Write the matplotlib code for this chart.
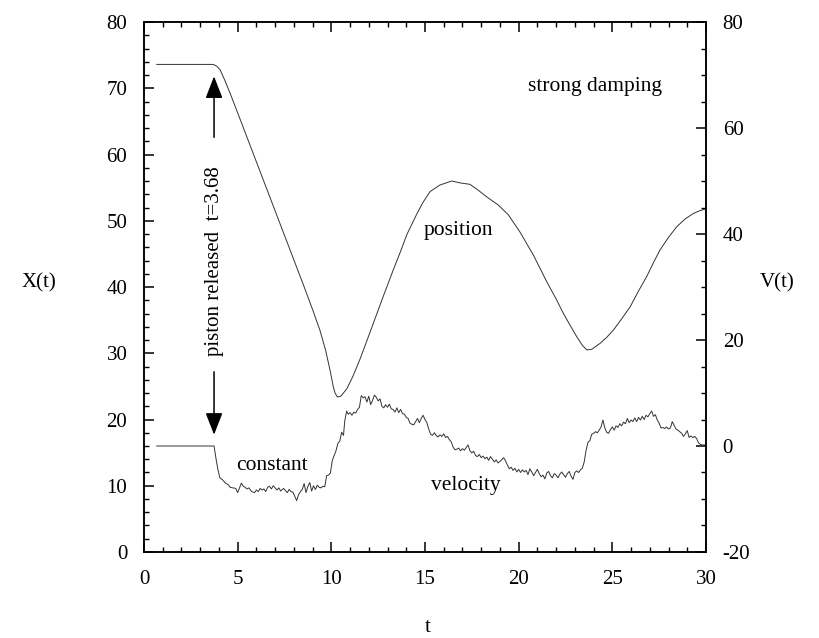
import matplotlib
matplotlib.use("Agg")
import matplotlib.pyplot as plt
from matplotlib.ticker import MultipleLocator

# position X(t), left axis
POS_T = [0.68, 3.70, 3.9, 4.06, 4.3, 4.59, 5.0, 5.5, 6.0, 6.5, 7.0, 7.5, 8.0, 8.5,
         9.0, 9.4, 9.7, 9.95, 10.1, 10.2, 10.32, 10.5, 10.82, 11.15, 11.53, 11.9,
         12.24, 12.8, 13.31, 13.7, 14.03, 14.56, 14.9, 15.27, 15.8, 16.43, 16.9,
         17.4, 17.8, 18.3, 18.9, 19.45, 20.07, 20.79, 21.5, 22.0, 22.39, 22.75,
         23.1, 23.4, 23.64, 23.9, 24.35, 24.7, 25.06, 25.5, 25.95, 26.4, 26.84,
         27.2, 27.55, 28.0, 28.44, 28.9, 29.33, 29.65, 30.0]
POS_X = [73.6, 73.6, 73.3, 72.8, 71.3, 69.3, 66.3, 62.6, 58.9, 55.2, 51.5, 47.8, 44.1, 40.4,
         36.6, 33.4, 30.4, 27.2, 25.0, 24.0, 23.4, 23.5, 24.6, 26.5, 29.1, 31.9,
         34.5, 38.8, 42.6, 45.4, 47.9, 51.0, 52.8, 54.4, 55.4, 56.0, 55.7,
         55.5, 54.7, 53.6, 52.4, 50.9, 48.3, 44.8, 40.8, 38.2, 36.0, 34.2,
         32.5, 31.2, 30.5, 30.6, 31.5, 32.4, 33.5, 35.2, 37.0, 39.4, 41.6,
         43.7, 45.6, 47.5, 49.1, 50.3, 51.1, 51.5, 51.8]

# velocity V(t), right axis
VEL_T = [0.68, 3.74, 3.85, 3.95, 4.05, 4.2, 4.35, 4.5, 4.6, 4.75, 4.9,
         5.0, 5.1, 5.2, 5.3, 5.4, 5.5, 5.6, 5.75, 5.9,
         6.0, 6.1, 6.2, 6.3, 6.4, 6.5, 6.6, 6.7, 6.8, 6.9,
         7.0, 7.1, 7.2, 7.3, 7.45, 7.55, 7.65, 7.75, 7.85, 7.95,
         8.05, 8.15, 8.25, 8.35, 8.45, 8.55, 8.65, 8.75, 8.85, 8.95,
         9.05, 9.15, 9.25, 9.35, 9.45, 9.55, 9.65, 9.75, 9.85, 9.95,
         10.05, 10.15, 10.25, 10.35, 10.45, 10.55, 10.65, 10.72, 10.82, 10.9,
         11.0, 11.1, 11.2, 11.3, 11.4, 11.5, 11.6, 11.7, 11.8, 11.9,
         12.0, 12.1, 12.2, 12.3, 12.4, 12.5, 12.6, 12.7, 12.8, 12.9,
         13.0, 13.1, 13.2, 13.3, 13.4, 13.5, 13.6, 13.7, 13.8, 13.9,
         14.0, 14.1, 14.2, 14.3, 14.4, 14.5, 14.6, 14.7, 14.8, 14.9,
         15.0, 15.1, 15.2, 15.3, 15.4, 15.5, 15.6, 15.7, 15.8, 15.9,
         16.0, 16.1, 16.2, 16.3, 16.4, 16.5, 16.6, 16.7, 16.8, 16.9,
         17.0, 17.1, 17.2, 17.3, 17.4, 17.5, 17.6, 17.7, 17.8, 17.9,
         18.0, 18.1, 18.2, 18.3, 18.4, 18.5, 18.6, 18.7, 18.8, 18.9,
         19.0, 19.1, 19.2, 19.3, 19.4, 19.5, 19.6, 19.7, 19.8, 19.9,
         20.0, 20.1, 20.2, 20.3, 20.4, 20.5, 20.6, 20.7, 20.8, 20.9,
         21.0, 21.1, 21.2, 21.3, 21.4, 21.5, 21.6, 21.7, 21.8, 21.9,
         22.0, 22.1, 22.2, 22.3, 22.4, 22.5, 22.6, 22.7, 22.8, 22.9,
         23.0, 23.1, 23.2, 23.3, 23.4, 23.5, 23.6, 23.7, 23.8, 23.9,
         24.0, 24.1, 24.2, 24.3, 24.4, 24.5, 24.6, 24.7, 24.8, 24.9,
         25.0, 25.1, 25.2, 25.3, 25.4, 25.5, 25.6, 25.7, 25.8, 25.9,
         26.0, 26.1, 26.2, 26.3, 26.4, 26.5, 26.6, 26.7, 26.8, 26.9,
         27.0, 27.1, 27.2, 27.3, 27.4, 27.5, 27.6, 27.7, 27.8, 27.9,
         28.0, 28.1, 28.2, 28.3, 28.4, 28.5, 28.6, 28.7, 28.8, 28.9,
         29.0, 29.1, 29.2, 29.3, 29.4, 29.5, 29.6, 29.7, 29.8, 30.0]
VEL_V = [0.0, 0.0, -2.5, -4.5, -6.0, -6.4, -7.0, -7.3, -7.8, -7.9, -8.0,
         -8.8, -7.9, -7.0, -7.6, -7.8, -8.1, -7.9, -8.6, -8.8,
         -8.3, -8.6, -8.0, -8.3, -8.1, -8.6, -7.8, -7.6, -8.1, -7.5,
         -7.9, -8.3, -7.9, -8.5, -8.0, -8.4, -8.8, -8.2, -8.6, -8.7,
         -9.5, -10.3, -9.2, -8.6, -8.2, -7.1, -8.8, -7.6, -6.9, -8.5,
         -7.5, -8.2, -7.4, -7.8, -7.9, -7.6, -7.7, -5.6, -5.5, -5.1,
         -2.8, -1.8, -0.9, 0.5, 0.9, 2.6, 2.0, 4.8, 6.6, 6.0,
         6.3, 5.8, 6.4, 6.2, 6.9, 7.3, 9.5, 9.1, 9.3, 8.3,
         9.4, 7.8, 8.6, 9.6, 9.2, 8.5, 8.9, 7.5, 7.2, 7.8,
         7.3, 7.9, 7.0, 6.9, 6.4, 7.2, 6.3, 6.9, 6.1, 6.0,
         5.4, 5.2, 4.3, 4.1, 4.0, 4.6, 5.2, 4.4, 5.2, 5.8,
         5.0, 4.4, 3.2, 2.2, 2.0, 2.5, 2.0, 1.7, 2.1, 1.8,
         2.3, 1.6, 1.8, 1.2, 0.8, -0.2, -0.7, -0.6, -0.4, -0.9,
         -0.5, -0.8, -0.3, 0.2, -0.9, -1.3, -1.0, -1.8, -2.0, -1.6,
         -2.2, -1.9, -2.4, -2.1, -2.7, -2.0, -2.5, -3.0, -2.6, -3.2,
         -2.9, -2.6, -2.2, -2.8, -3.6, -4.3, -4.0, -4.6, -4.2, -4.9,
         -4.4, -5.0, -4.5, -4.9, -4.6, -5.4, -4.3, -4.9, -5.6, -5.0,
         -4.4, -5.2, -5.8, -5.5, -6.2, -5.1, -4.8, -5.6, -6.0, -5.2,
         -5.5, -6.0, -5.3, -4.9, -5.4, -5.9, -5.2, -4.8, -5.7, -6.3,
         -5.0, -4.7, -5.0, -4.5, -4.2, -3.0, -0.8, 0.7, 1.0, 2.2,
         2.4, 2.7, 2.5, 3.0, 3.6, 4.9, 3.4, 2.6, 2.4, 3.1,
         3.6, 3.0, 3.8, 3.5, 4.2, 3.8, 4.5, 4.2, 5.2, 4.4,
         4.9, 4.6, 5.3, 4.6, 5.4, 4.9, 5.6, 5.0, 5.8, 5.5,
         6.1, 6.6, 5.6, 5.9, 4.9, 4.3, 3.4, 3.5, 3.3, 3.6,
         3.2, 3.4, 4.6, 3.9, 3.2, 3.0, 2.7, 2.4, 1.8, 2.3,
         2.9, 1.6, 1.9, 1.6, 1.8, 1.4, 0.6, 0.3, 0.2, 0.2]

LINE = "#333333"

plt.rcParams.update({
    "font.family": "serif",
    "font.serif": ["Liberation Serif", "DejaVu Serif"],
    "font.size": 15,
    "axes.linewidth": 1.1,
    "axes.unicode_minus": False,
})

fig = plt.figure(figsize=(8.19, 6.38), dpi=100)
ax = fig.add_axes([0.1758, 0.1348, 0.6862, 0.8307])
ax2 = ax.twinx()

ax.plot(POS_T, POS_X, color=LINE, lw=0.7)
ax2.plot(VEL_T, VEL_V, color=LINE, lw=0.7)

ax.set_xlim(0, 30)
ax.set_ylim(0, 80)
ax2.set_ylim(-20, 80)

ax.xaxis.set_major_locator(MultipleLocator(5))
ax.xaxis.set_minor_locator(MultipleLocator(1))
ax.yaxis.set_major_locator(MultipleLocator(10))
ax.yaxis.set_minor_locator(MultipleLocator(2))
ax2.yaxis.set_major_locator(MultipleLocator(20))
ax2.yaxis.set_minor_locator(MultipleLocator(5))

ax.tick_params(axis="x", which="both", direction="in", top=True, bottom=True)
ax.tick_params(axis="y", which="both", direction="in", left=True, right=False)
ax.tick_params(which="major", length=7, width=1.1, labelsize=15)
ax.tick_params(which="minor", length=3.5, width=1.0)
ax.tick_params(axis="x", which="major", pad=13)
ax.tick_params(axis="y", which="major", pad=12)
ax2.tick_params(axis="y", which="both", direction="in", right=True, left=False)
ax2.tick_params(which="major", length=7, width=1.1, labelsize=15, pad=12)
ax2.tick_params(which="minor", length=3.5, width=1.0)

# axis labels
fig.text(0.047, 0.556, "X(t)", ha="center", va="center", fontsize=15)
fig.text(0.949, 0.556, "V(t)", ha="center", va="center", fontsize=15)
fig.text(0.522, 0.016, "t", ha="center", va="center", fontsize=15)

# annotations
ax.text(20.5, 70.2, "strong damping", ha="left", va="center", fontsize=15.5)
ax.text(16.8, 48.6, "position", ha="center", va="center", fontsize=15.5)
ax.text(6.82, 13.0, "constant", ha="center", va="center", fontsize=15.5)
ax.text(17.2, 10.1, "velocity", ha="center", va="center", fontsize=15.5)
ax.text(3.74, 43.9, "piston released  t=3.68", rotation=90,
        ha="center", va="center", fontsize=15)

arrow = dict(arrowstyle="-|>,head_length=0.9,head_width=0.35",
             color="black", lw=1.1, mutation_scale=15, shrinkA=0, shrinkB=0)
ax.annotate("", xy=(3.74, 71.8), xytext=(3.74, 62.6), arrowprops=arrow)
ax.annotate("", xy=(3.74, 17.7), xytext=(3.74, 27.2), arrowprops=arrow)

fig.savefig("out.png", dpi=100)
